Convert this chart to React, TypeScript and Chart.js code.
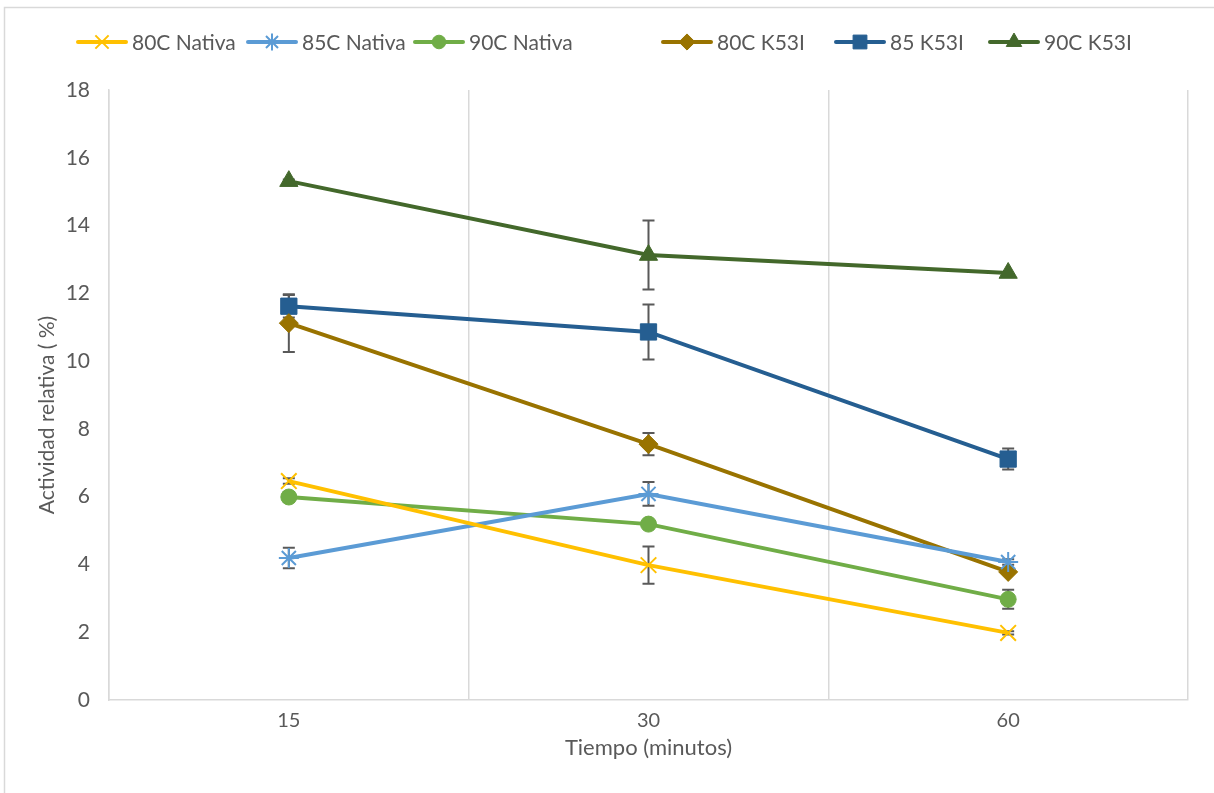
import React, { useEffect, useRef } from "react";
import { Chart, registerables } from "chart.js";
import { drawPoint } from "chart.js/helpers";

Chart.register(...registerables);

// ---- Data ----
const categories = ["15", "30", "60"];
const seriesNames = ["80C Nativa", "85C Nativa", "90C Nativa", "80C K53I", "85 K53I", "90C K53I"];

const nativa80 = [6.46, 3.98, 1.98];
const nativa85 = [4.19, 6.08, 4.07];
const nativa90 = [5.99, 5.19, 2.97];
const k53i80 = [11.12, 7.55, 3.78];
const k53i85 = [11.62, 10.86, 7.11];
const k53i90 = [15.31, 13.13, 12.6];

const errNativa80 = [0.08, 0.55, 0.05];
const errNativa85 = [0.3, 0.35, 0.08];
const errNativa90 = [0.15, 0.0, 0.28];
const errK53i80 = [0.85, 0.33, 0.05];
const errK53i85 = [0.33, 0.81, 0.31];
const errK53i90 = [0.05, 1.02, 0.0];

const yTicks = [0, 2, 4, 6, 8, 10, 12, 14, 16, 18];
const yTitle = "Actividad relativa ( %)";
const xTitle = "Tiempo (minutos)";

const TEXT = "#595959";
const GRID = "#d9d9d9";
const FONT = "Lato";

const styles = [
  { color: "#FFC000", pointStyle: "crossRot", radius: 11, borderWidth: 2 },
  { color: "#5B9BD5", pointStyle: "star", radius: 10, borderWidth: 2 },
  { color: "#70AD47", pointStyle: "circle", radius: 8, borderWidth: 1 },
  { color: "#997300", pointStyle: "rectRot", radius: 9.5, borderWidth: 1 },
  { color: "#255E91", pointStyle: "rect", radius: 11.5, borderWidth: 1 },
  { color: "#43682B", pointStyle: "triangle", radius: 10.5, borderWidth: 1 },
];

const seriesValues = [nativa80, nativa85, nativa90, k53i80, k53i85, k53i90];
const seriesErrors = [errNativa80, errNativa85, errNativa90, errK53i80, errK53i85, errK53i90];

// legend layout (line start x positions)
const legendLineStarts = [78, 248, 415, 663, 836, 990];
const legendLineLen = 48;
const legendY = 42;

const frameAndErrorPlugin = {
  id: "frameAndErrors",
  beforeDraw(chart: any) {
    const ctx = chart.ctx;
    ctx.save();
    ctx.fillStyle = "#ffffff";
    ctx.fillRect(0, 0, chart.width, chart.height);
    ctx.strokeStyle = GRID;
    ctx.lineWidth = 1.5;
    ctx.beginPath();
    ctx.moveTo(4.5, chart.height);
    ctx.lineTo(4.5, 7.5);
    ctx.lineTo(chart.width, 7.5);
    ctx.stroke();
    ctx.restore();
  },
  beforeDatasetsDraw(chart: any) {
    const ctx = chart.ctx;
    const yScale = chart.scales.y;
    ctx.save();
    ctx.strokeStyle = "#595959";
    ctx.lineWidth = 2;
    chart.data.datasets.forEach((ds: any, i: number) => {
      const meta = chart.getDatasetMeta(i);
      const errs = seriesErrors[i];
      meta.data.forEach((pt: any, j: number) => {
        const e = errs[j];
        if (!e) return;
        const v = ds.data[j];
        const x = pt.x;
        const yTop = yScale.getPixelForValue(v + e);
        const yBot = yScale.getPixelForValue(v - e);
        ctx.beginPath();
        ctx.moveTo(x, yTop);
        ctx.lineTo(x, yBot);
        ctx.moveTo(x - 6, yTop);
        ctx.lineTo(x + 6, yTop);
        ctx.moveTo(x - 6, yBot);
        ctx.lineTo(x + 6, yBot);
        ctx.stroke();
      });
    });
    ctx.restore();
  },
  afterDraw(chart: any) {
    const ctx = chart.ctx;
    ctx.save();
    chart.data.datasets.forEach((ds: any, i: number) => {
      const st = styles[i];
      const x0 = legendLineStarts[i];
      ctx.strokeStyle = st.color;
      ctx.fillStyle = st.color;
      ctx.lineWidth = 4;
      ctx.lineCap = "round";
      ctx.beginPath();
      ctx.moveTo(x0, legendY);
      ctx.lineTo(x0 + legendLineLen, legendY);
      ctx.stroke();
      ctx.lineCap = "butt";
      ctx.lineWidth = st.borderWidth;
      drawPoint(ctx, { pointStyle: st.pointStyle, radius: st.radius * 0.85, borderWidth: st.borderWidth, rotation: 0 } as any, x0 + legendLineLen / 2, legendY);
      ctx.fillStyle = TEXT;
      ctx.font = `21px ${FONT}`;
      ctx.textBaseline = "middle";
      ctx.textAlign = "left";
      ctx.fillText(ds.label, x0 + legendLineLen + 6, legendY + 1);
    });
    // y-axis title (positioned as in the reference)
    ctx.translate(47, 415);
    ctx.rotate(-Math.PI / 2);
    ctx.fillStyle = TEXT;
    ctx.font = `21px ${FONT}`;
    ctx.textAlign = "center";
    ctx.textBaseline = "middle";
    ctx.fillText(yTitle, 0, 0);
    ctx.restore();
  },
};

export default function App() {
  const ref = useRef<HTMLCanvasElement | null>(null);

  useEffect(() => {
    document.body.style.margin = "0";
    const canvas = ref.current;
    if (!canvas) return;
    const chart = new Chart(canvas, {
      type: "line",
      data: {
        labels: categories,
        datasets: seriesNames.map((name, i) => ({
          label: name,
          data: seriesValues[i],
          borderColor: styles[i].color,
          backgroundColor: styles[i].color,
          borderWidth: 4,
          pointStyle: styles[i].pointStyle as any,
          pointRadius: styles[i].radius,
          pointHoverRadius: styles[i].radius,
          pointBorderWidth: styles[i].borderWidth,
          pointBackgroundColor: styles[i].color,
          pointBorderColor: styles[i].color,
          tension: 0,
          fill: false,
        })),
      },
      options: {
        animation: false,
        responsive: false,
        maintainAspectRatio: false,
        layout: { padding: { top: 90, right: 26, left: 0, bottom: 0 } },
        plugins: {
          legend: { display: false },
          tooltip: { enabled: false },
        },
        scales: {
          x: {
            type: "category",
            offset: true,
            grid: { offset: true, color: GRID, lineWidth: 1.5, drawTicks: false },
            border: { display: true, color: GRID, width: 1.5 },
            ticks: { color: TEXT, font: { family: FONT, size: 20 }, padding: 9 },
            title: {
              display: true,
              text: xTitle,
              color: TEXT,
              font: { family: FONT, size: 22 },
              padding: { top: 0, bottom: 32 },
            },
            afterFit: (s: any) => {
              s.height = 93;
            },
          },
          y: {
            min: 0,
            max: 18,
            afterBuildTicks: (s: any) => {
              s.ticks = yTicks.map((v) => ({ value: v }));
            },
            grid: { display: false, drawTicks: false },
            border: { display: true, color: GRID, width: 1.5 },
            ticks: { color: TEXT, font: { family: FONT, size: 21 }, padding: 19 },
            title: { display: false },
            afterFit: (s: any) => {
              s.width = 109;
            },
          },
        },
      },
      plugins: [frameAndErrorPlugin],
    });
    return () => chart.destroy();
  }, []);

  return (
    <div style={{ width: 1214, height: 793 }}>
      <canvas ref={ref} width={1214} height={793} style={{ display: "block" }} />
    </div>
  );
}
